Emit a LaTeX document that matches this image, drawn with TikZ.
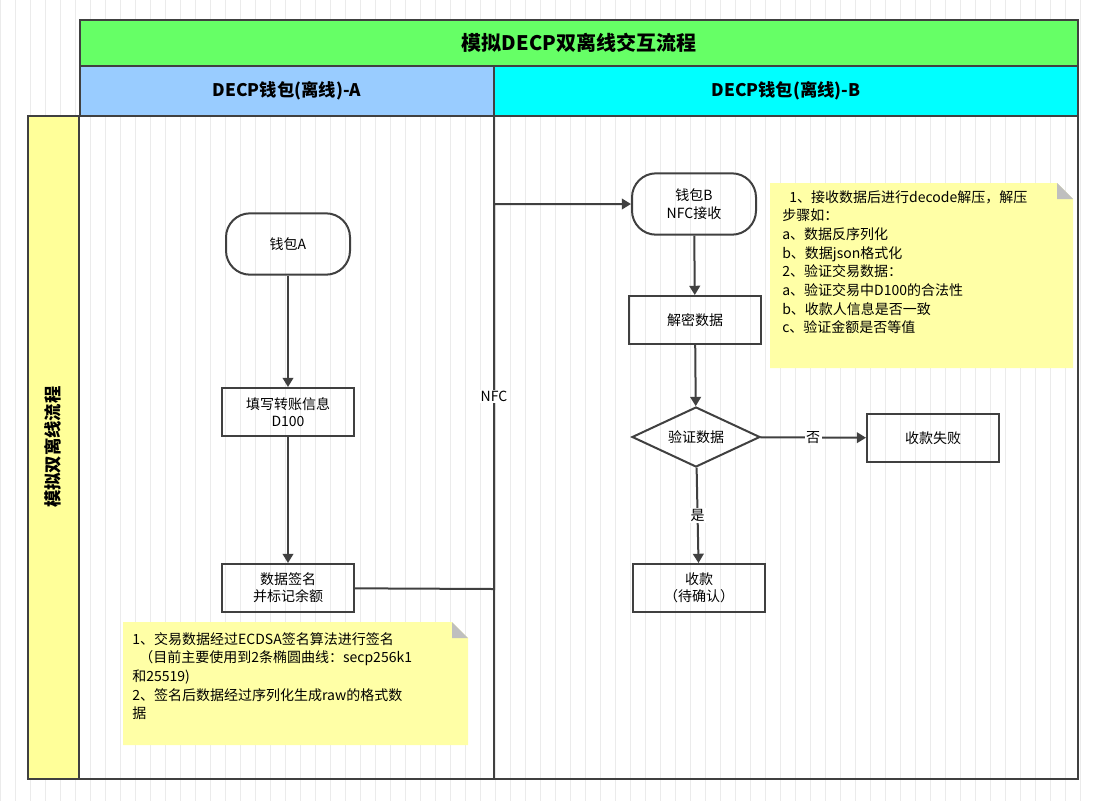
\documentclass[tikz,border=0pt]{standalone}
\usepackage{fontspec}
\setmainfont{Noto Sans CJK SC}
\usetikzlibrary{shapes.geometric,arrows.meta,positioning}
\definecolor{titlegreen}{HTML}{66FF66}
\definecolor{lanea}{HTML}{99CCFF}
\definecolor{laneb}{HTML}{00FFFF}
\definecolor{laneside}{HTML}{FFFF99}
\definecolor{notebg}{HTML}{FFFFA6}
\definecolor{linegray}{HTML}{404040}
\tikzset{
	every path/.style={line width=1.5pt},
	proc/.style={
		draw=linegray,
		rectangle,
		minimum width=99pt,
		minimum height=36pt,
		align=center,
		font=\fontsize{10.5}{13}\selectfont,
	},
	terminal/.style={
		proc,
		rounded corners=18pt,
		minimum width=93pt,
		minimum height=46pt,
	},
	decide/.style={
		draw=linegray,
		diamond,
		aspect=2.1,
		inner sep=1pt,
		minimum width=96pt,
		minimum height=45pt,
		font=\fontsize{10.5}{13}\selectfont,
	},
	flow/.style={
		draw=linegray,
		-{Triangle[angle=60:8pt 0]},
	},
	note/.style={
		fill=notebg,
		draw=none,
		align=left,
		anchor=north west,
		inner sep=4pt,
		font=\fontsize{10.5}{14}\selectfont,
	},
	head/.style={
		draw=linegray,
		font=\bfseries\fontsize{13}{15}\selectfont,
	},
	lbl/.style={fill=white, inner sep=1pt, font=\fontsize{10.5}{13}\selectfont},
}

\begin{document}
\begin{tikzpicture}[x=0.75pt,y=-0.75pt]
	\useasboundingbox (0,0) rectangle (1095,801);
	% grid
	\draw[line width=0.3pt, black!8, step=15] (0,0) grid (1095,801);

	% swimlanes
	\filldraw[head, fill=titlegreen] (80,20) rectangle (1078,66);
	\node[font=\bfseries\fontsize{15}{17}\selectfont] (title) at (579,43) {模拟DECP双离线交互流程};
	\filldraw[head, fill=lanea] (80,66) rectangle (494,116);
	\node[head, draw=none] (laneA) at (287,91) {DECP钱包(离线)-A};
	\filldraw[head, fill=laneb] (494,66) rectangle (1078,116);
	\node[head, draw=none] (laneB) at (786,91) {DECP钱包(离线)-B};
	\filldraw[head, fill=laneside] (28,116) rectangle (79,779);
	\node[head, draw=none, rotate=90] (laneS) at (53,447) {模拟双离线流程};
	\draw[draw=linegray] (79,116) rectangle (1078,779);
	\draw[draw=linegray] (494,116) -- (494,779);

	% notes
	\fill[notebg] (123,622) -- (452,622) -- (468,638) -- (468,745) -- (123,745) -- cycle;
	\fill[black!25] (452,622) -- (468,638) -- (452,638) -- cycle;
	\node[note] (noteA) at (126,626) {1、交易数据经过ECDSA签名算法进行签名\\\hspace{0.5em}（目前主要使用到2条椭圆曲线：secp256k1\\和25519)\\2、签名后数据经过序列化生成raw的格式数\\据};
	\fill[notebg] (770,183) -- (1057,183) -- (1073,199) -- (1073,368) -- (770,368) -- cycle;
	\fill[black!25] (1057,183) -- (1073,199) -- (1057,199) -- cycle;
	\node[note] (noteB) at (776,184) {\hspace{0.5em}1、接收数据后进行decode解压，解压\\步骤如：\\a、数据反序列化\\b、数据json格式化\\2、验证交易数据：\\a、验证交易中D100的合法性\\b、收款人信息是否一致\\c、验证金额是否等值};

	% nodes
	\node[terminal] (walletA) at (288,244) {钱包A};
	\node[proc] (fill) at (288,412) {填写转账信息\\D100};
	\node[proc] (sign) at (288,588) {数据签名\\并标记余额};
	\node[terminal] (walletB) at (694,204) {钱包B\\NFC接收};
	\node[proc] (decrypt) at (695,320) {解密数据};
	\node[decide] (check) at (696,437) {验证数据};
	\node[proc] (fail) at (933,438) {收款失败};
	\node[proc] (recv) at (699,588) {收款\\（待确认）};
	\coordinate (nfcB) at (494,589);
	\coordinate (nfcT) at (494,204);

	% connectors
	\draw[flow] (walletA) -- (fill);
	\draw[flow] (fill) -- (sign);
	\draw[flow] (sign) -- (nfcB) -- node[lbl, pos=0.5] {NFC} (nfcT) -- (walletB);
	\draw[flow] (walletB) -- (decrypt);
	\draw[flow] (decrypt) -- (check);
	\draw[flow] (check) -- node[lbl] {否} (fail);
	\draw[flow] (check) -- node[lbl] {是} (recv);
\end{tikzpicture}
\end{document}
